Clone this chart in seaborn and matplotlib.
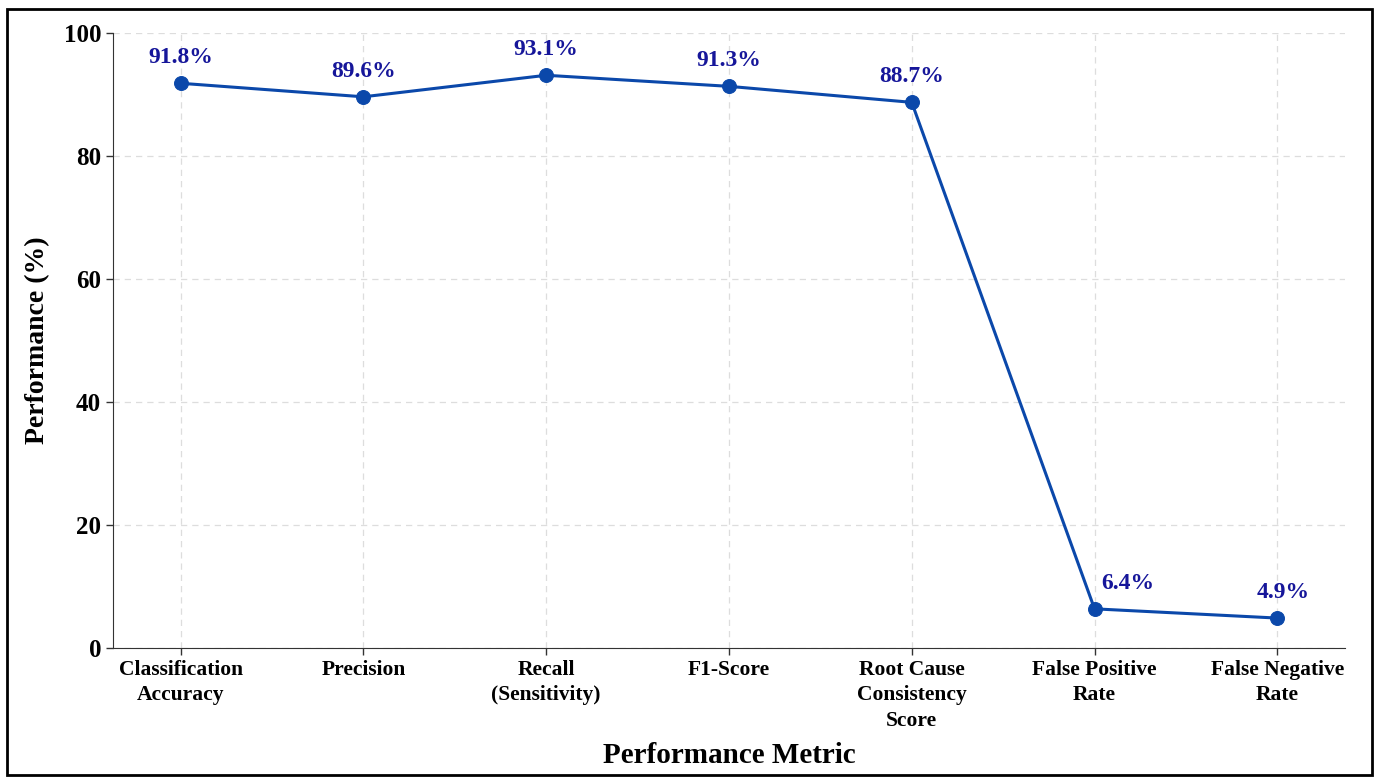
import matplotlib
matplotlib.use("Agg")
import matplotlib.pyplot as plt
import seaborn as sns
import pandas as pd
from matplotlib.patches import Rectangle

# Chart data
metrics = ['Classification\nAccuracy', 'Precision', 'Recall\n(Sensitivity)', 'F1-Score',
           'Root Cause\nConsistency\nScore', 'False Positive\nRate', 'False Negative\nRate']
values = [91.8, 89.6, 93.1, 91.3, 88.7, 6.4, 4.9]
y_ticks = [0, 20, 40, 60, 80, 100]

df = pd.DataFrame({'metric': range(len(metrics)), 'value': values})

sns.set_style('white')
plt.rcParams['font.family'] = ['Liberation Serif', 'DejaVu Serif']
plt.rcParams['font.weight'] = 'bold'

line_color = '#0b48aa'
text_color = '#16169a'

fig, ax = plt.subplots(figsize=(13.78, 7.81), dpi=100)
fig.subplots_adjust(left=0.082, right=0.976, top=0.958, bottom=0.17)

sns.lineplot(data=df, x='metric', y='value', ax=ax, color=line_color, linewidth=2.2,
             marker='o', markersize=10, markeredgecolor=line_color)

# Value labels above each point (the two low ones nudged right, off the line)
label_dx = [0, 0, 0, 0, 0, 24, 4]
for i, v in enumerate(values):
    ax.annotate(f'{v}%', (i, v), xytext=(label_dx[i], 11), textcoords='offset points',
                ha='center', va='bottom', fontsize=17, fontweight='bold', color=text_color)

ax.set_xlim(-0.37, len(metrics) - 1 + 0.37)
ax.set_ylim(0, 100)
ax.set_xticks(range(len(metrics)))
ax.set_xticklabels(metrics, fontsize=15.5, fontweight='bold', linespacing=1.35)
ax.set_yticks(y_ticks)
ax.set_yticklabels([str(t) for t in y_ticks], fontsize=18, fontweight='bold')

ax.grid(True, linestyle=(0, (5, 4)), color='#dddddd', linewidth=0.9)
ax.set_axisbelow(True)
ax.tick_params(axis='both', direction='out', length=5, width=1, color='#333333',
               labelcolor='black', left=True, bottom=True)

ax.spines['top'].set_visible(False)
ax.spines['right'].set_visible(False)
ax.spines['left'].set_color('#333333')
ax.spines['bottom'].set_color('#333333')

ax.set_xlabel('Performance Metric', fontsize=21, fontweight='bold', labelpad=8, color='black')
ax.set_ylabel('Performance (%)', fontsize=20, fontweight='bold', labelpad=10, color='black')

# Frame around the whole figure
fig.patches.append(Rectangle((0.005, 0.008), 0.991, 0.98, transform=fig.transFigure,
                             fill=False, edgecolor='black', linewidth=2))

fig.savefig('out.png', dpi=100)
